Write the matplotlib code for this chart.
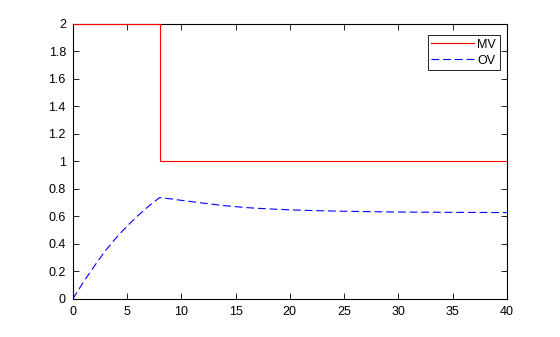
import matplotlib
matplotlib.use('Agg')
import matplotlib.pyplot as plt
import numpy as np

# manipulated variable (step)
mv_t = [0, 8, 8, 40]
mv_y = [2, 2, 1, 1]

# output variable
ov_t = [0, 1, 2, 3, 4, 5, 6, 7, 8, 9, 10, 12, 14, 16, 18, 20, 22, 24, 27, 30, 34, 37, 40]
ov_y = [0, 0.125, 0.24, 0.35, 0.445, 0.53, 0.605, 0.675, 0.737, 0.728, 0.717, 0.697, 0.678,
        0.664, 0.655, 0.648, 0.643, 0.639, 0.635, 0.632, 0.630, 0.629, 0.628]

plt.rcParams['font.family'] = ['Liberation Sans', 'DejaVu Sans']
plt.rcParams['font.size'] = 9

fig = plt.figure(figsize=(5.6, 3.37), dpi=100)
ax = fig.add_axes([0.13, 0.113, 0.775, 0.816])
ax.plot(mv_t, mv_y, color='red', lw=0.8, label='MV', clip_on=False, zorder=3)
ax.plot(ov_t, ov_y, color='blue', lw=0.8, dashes=(7, 3.5), label='OV')
ax.set_xlim(0, 40)
ax.set_ylim(0, 2)
ax.set_xticks(np.arange(0, 41, 5))
ax.set_yticks(np.arange(0, 2.01, 0.2))
ax.set_yticklabels(['0', '0.2', '0.4', '0.6', '0.8', '1', '1.2', '1.4', '1.6', '1.8', '2'])
ax.tick_params(direction='in', length=4, width=0.6, top=True, right=True, pad=5)
for s in ax.spines.values():
    s.set_linewidth(0.8)
leg = ax.legend(loc='upper right', bbox_to_anchor=(500 / 560, 1 - 35 / 337),
                bbox_transform=fig.transFigure, borderaxespad=0,
                fancybox=False, edgecolor='black', framealpha=1,
                handlelength=3.4, labelspacing=0.3, borderpad=0.3,
                handletextpad=0.3)
leg.get_frame().set_linewidth(0.6)
fig.savefig('out.png', dpi=100)
